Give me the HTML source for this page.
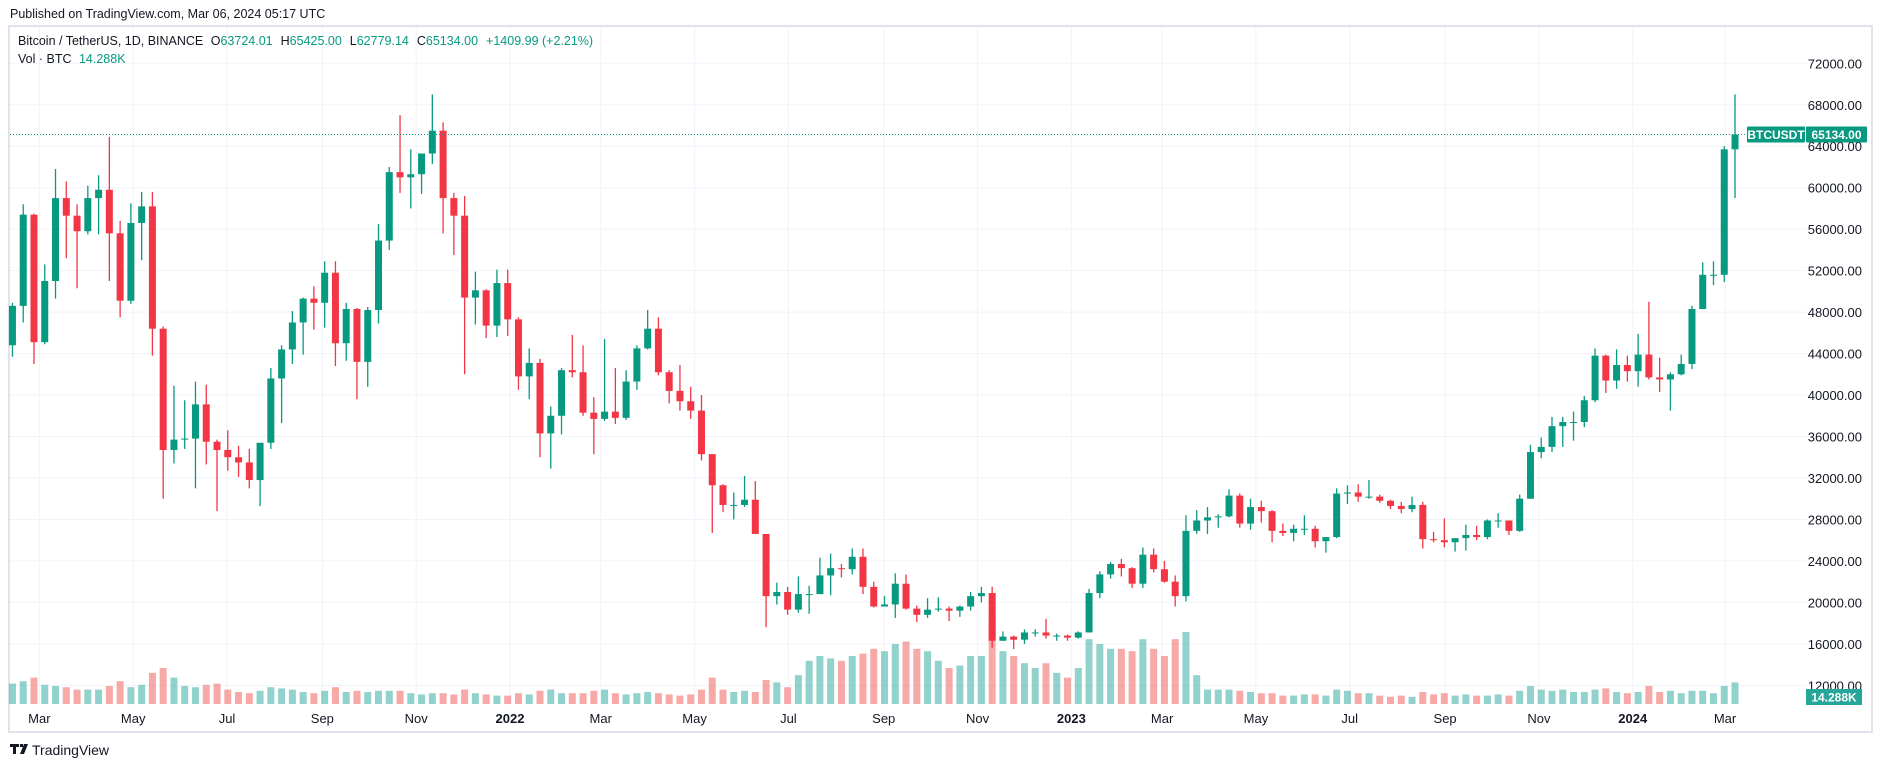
<!DOCTYPE html>
<html><head><meta charset="utf-8"><style>
body{margin:0;background:#fff;font-family:"Liberation Sans",sans-serif;}
#wrap{position:relative;width:1882px;height:768px;overflow:hidden;}
</style></head><body>
<div id="wrap">
<svg id="svg" width="1882" height="768" xmlns="http://www.w3.org/2000/svg" style="font-family:'Liberation Sans',sans-serif">
<text x="10" y="18" font-size="12.5" fill="#131722">Published on TradingView.com, Mar 06, 2024 05:17 UTC</text>
<rect x="9" y="26" width="1863" height="706" fill="none" stroke="#e0e3eb" stroke-width="2"/>
<g id="grid"></g>
<g id="vol"></g>
<g id="candles"></g>
<g id="axes"></g>
<g font-size="12.5">
<text x="18" y="45" fill="#131722">Bitcoin / TetherUS, 1D, BINANCE <tspan dx="4">O</tspan><tspan fill="#089981">63724.01</tspan><tspan dx="8">H</tspan><tspan fill="#089981">65425.00</tspan><tspan dx="8">L</tspan><tspan fill="#089981">62779.14</tspan><tspan dx="8">C</tspan><tspan fill="#089981">65134.00</tspan><tspan dx="8" fill="#089981">+1409.99 (+2.21%)</tspan></text>
<text x="18" y="63" fill="#131722">Vol · BTC <tspan dx="4" fill="#089981">14.288K</tspan></text>
</g>
<g>
<path d="M10 744h9v3h-3v7h-3v-7h-3z M20 744h3v3h-3z M24 744h4l-4 10h-4z" fill="#131722"/>
<text x="32" y="755" font-size="14" fill="#131722">TradingView</text>
</g>
</svg>
</div>
<script>
const opens=[44.8,48.6,57.4,45.1,51.0,59.0,57.3,55.8,59.0,59.8,55.6,49.1,56.6,58.2,46.4,34.7,35.7,35.8,39.1,35.5,34.7,34.0,33.5,31.8,35.4,41.6,44.4,47.0,49.3,48.9,51.8,45.0,48.3,43.2,48.2,54.9,61.5,61.0,61.3,63.3,65.5,59.0,57.3,49.4,50.1,46.7,50.8,47.3,41.8,43.1,36.3,38.0,42.4,42.2,38.3,37.7,38.4,37.8,41.3,44.5,46.4,42.2,40.4,39.4,38.5,34.3,31.3,29.4,29.4,29.9,26.6,20.6,21.0,19.3,20.8,20.8,22.6,23.3,23.2,24.4,21.5,19.6,19.8,21.8,19.4,18.8,19.3,19.4,19.2,19.6,20.6,20.9,16.3,16.7,16.4,17.1,17.1,16.8,16.8,16.6,17.1,20.9,22.7,23.7,23.3,21.8,24.6,23.2,22.0,20.6,26.9,27.9,28.2,28.3,30.3,27.6,29.2,28.8,26.9,26.7,27.1,27.1,25.9,26.3,30.5,30.6,30.2,30.2,29.8,29.3,29.0,29.4,26.1,26.0,25.8,26.2,26.5,26.3,27.9,27.9,26.9,30.0,34.5,35.0,37.0,37.4,37.4,39.5,43.8,41.4,42.9,42.3,43.9,41.7,41.5,42.0,43.0,48.3,51.6,51.6,63.7];
const highs=[48.9,58.4,57.5,52.6,61.8,60.6,58.4,60.2,61.2,64.9,56.8,58.5,59.6,59.6,46.6,40.9,39.5,41.3,41.0,35.7,36.6,35.1,34.8,34.5,42.6,44.8,48.1,49.4,50.5,52.9,52.9,48.9,48.4,48.5,56.5,62.0,67.0,63.7,63.3,69.0,66.3,59.5,59.2,51.9,50.2,52.1,52.1,47.5,44.5,43.5,38.9,42.6,45.8,44.8,39.8,45.4,42.6,42.4,44.8,48.2,47.5,42.4,42.9,40.8,40.0,34.3,31.4,30.6,32.2,31.7,26.6,21.9,21.5,22.5,21.6,24.3,24.7,23.7,25.2,25.2,22.0,20.6,22.8,22.7,19.7,20.4,20.5,19.6,19.7,21.0,21.5,21.5,17.2,16.8,17.4,17.4,18.4,17.0,16.9,17.2,21.3,23.0,23.9,24.2,23.4,25.3,25.2,24.0,22.6,28.4,28.9,29.2,28.5,30.9,30.5,30.0,29.8,28.9,27.6,27.5,28.4,27.4,26.2,31.0,31.3,31.4,31.8,30.4,29.9,29.7,30.2,29.7,26.8,28.1,26.1,27.5,27.4,28.0,28.6,27.9,30.4,35.2,35.9,37.9,37.9,38.4,39.9,44.5,43.9,44.4,43.8,45.9,49.0,43.6,42.2,43.9,48.6,52.8,52.9,64.0,69.0];
const lows=[43.7,47.0,43.0,44.9,49.3,53.2,50.3,55.5,55.5,51.0,47.5,48.8,53.0,43.8,30.0,33.4,34.8,31.0,33.3,28.8,32.7,32.1,31.0,29.3,34.8,37.3,43.0,43.9,46.3,46.5,42.8,43.3,39.6,40.8,46.9,54.0,59.5,58.0,59.4,62.3,55.6,53.5,42.0,46.8,45.5,45.6,45.7,40.5,39.6,34.0,32.9,36.2,41.7,38.0,34.3,37.5,37.2,37.6,40.5,44.4,41.9,39.2,38.5,37.7,33.7,26.7,28.7,28.0,29.2,26.6,17.6,19.8,18.8,19.0,18.9,20.8,20.7,22.4,22.7,20.8,19.5,19.6,18.5,19.3,18.1,18.5,19.1,18.2,18.6,19.2,20.0,15.6,16.3,15.5,16.0,16.7,16.5,16.3,16.3,16.5,17.1,20.4,22.3,22.5,21.4,21.4,22.9,21.9,19.6,20.1,26.6,26.6,27.2,28.2,27.2,27.0,27.7,25.8,26.4,25.9,26.5,25.3,24.8,26.2,29.5,29.7,30.0,29.6,29.0,28.6,28.7,25.2,25.8,25.3,24.9,25.0,26.0,26.1,27.2,26.5,26.8,30.0,33.9,34.5,35.0,35.6,36.9,39.3,40.2,40.6,41.3,40.8,41.5,40.3,38.5,41.9,42.5,48.3,50.6,50.9,59.0];
const closes=[48.6,57.4,45.1,51.0,59.0,57.3,55.8,59.0,59.8,55.6,49.1,56.6,58.2,46.4,34.7,35.7,35.8,39.1,35.5,34.7,34.0,33.5,31.8,35.4,41.6,44.4,47.0,49.3,48.9,51.8,45.0,48.3,43.2,48.2,54.9,61.5,61.0,61.3,63.3,65.5,59.0,57.3,49.4,50.1,46.7,50.8,47.3,41.8,43.1,36.3,38.0,42.4,42.2,38.3,37.7,38.4,37.8,41.3,44.5,46.4,42.2,40.4,39.4,38.5,34.3,31.3,29.4,29.4,29.9,26.6,20.6,21.0,19.3,20.8,20.8,22.6,23.3,23.2,24.4,21.5,19.6,19.8,21.8,19.4,18.8,19.3,19.4,19.2,19.6,20.6,20.9,16.3,16.7,16.4,17.1,17.1,16.8,16.8,16.6,17.1,20.9,22.7,23.7,23.3,21.8,24.6,23.2,22.0,20.6,26.9,27.9,28.2,28.3,30.3,27.6,29.2,28.8,26.9,26.7,27.1,27.1,25.9,26.3,30.5,30.6,30.2,30.2,29.8,29.3,29.0,29.4,26.1,26.0,25.8,26.2,26.5,26.3,27.9,27.9,26.9,30.0,34.5,35.0,37.0,37.4,37.4,39.5,43.8,41.4,42.9,42.3,43.9,41.7,41.5,42.0,43.0,48.3,51.6,51.6,63.7,65.134];
const volumes=[85,95,110,80,75,70,60,60,60,75,95,70,80,130,150,110,75,70,80,85,60,50,45,55,70,65,60,50,45,55,70,50,55,50,55,55,55,45,40,45,45,40,60,45,40,35,35,45,40,55,60,45,45,45,55,60,45,40,45,50,45,40,35,40,60,110,60,50,55,50,100,90,70,120,180,200,190,180,200,210,230,220,250,260,230,220,180,150,160,200,200,350,220,200,170,150,170,130,110,150,270,250,230,230,220,270,230,200,270,300,120,60,60,60,55,50,45,45,35,35,40,40,35,60,55,45,45,35,30,35,30,50,40,45,35,40,35,35,40,35,55,75,60,55,60,50,50,60,65,50,45,50,75,50,55,45,55,55,45,75,90];
const priceTicks=[72000,68000,64000,60000,56000,52000,48000,44000,40000,36000,32000,28000,24000,20000,16000,12000];
const timeLabels=["Mar","May","Jul","Sep","Nov","2022","Mar","May","Jul","Sep","Nov","2023","Mar","May","Jul","Sep","Nov","2024","Mar"];
const timeLabelDays=[-306,-245,-184,-122,-61,0,59,120,181,243,304,365,424,485,546,608,669,730,790];
const firstWeekDay=-327;
const lastPrice=65134;

const NS="http://www.w3.org/2000/svg";
function el(t,a,p){const e=document.createElementNS(NS,t);for(const k in a)e.setAttribute(k,a[k]);p.appendChild(e);return e;}
const yP=p=>63.3+(72000-p)*0.010367;
const xD=d=>510+1.538*d;
const xW=i=>xD(firstWeekDay+7*i+3.5);
const volBase=704, volScale=0.24;
const grid=document.getElementById('grid'),axes=document.getElementById('axes'),cg=document.getElementById('candles'),vg=document.getElementById('vol');
priceTicks.forEach(p=>{
  const l=el('line',{x1:10,x2:1806,y1:yP(p),y2:yP(p),stroke:'#f0f3fa','stroke-width':1},grid);
  
  
  const t=el('text',{x:1862,y:yP(p)+5,'text-anchor':'end','font-size':13,fill:'#131722'},axes);
  t.textContent=p.toFixed(2);
  
  
});
timeLabels.forEach((s,i)=>{
  const x=xD(timeLabelDays[i]);
  const l=el('line',{x1:x,x2:x,y1:27,y2:706,stroke:'#f0f3fa','stroke-width':1},grid);
  
  
  const t=el('text',{x:x,y:723,'text-anchor':'middle','font-size':13,fill:'#131722','font-weight':/^\d/.test(s)?'bold':'normal'},axes);
  t.textContent=s;
  
  
});
closes.forEach((c,i)=>{
  const o=opens[i],up=c>=o,x=xW(i);
  const col=up?'#089981':'#f23645';
  const vh=volumes[i]*volScale;
  const vb=el('rect',{x:x-3.5,y:volBase-vh,width:7,height:vh,fill:up?'#26a69a':'#ef5350','fill-opacity':0.5},vg);
  
  
  const w=el('line',{x1:x,x2:x,y1:yP(highs[i]*1000),y2:yP(lows[i]*1000),stroke:col,'stroke-width':1.3},cg);
  
  
  const top=yP(Math.max(o,c)*1000),bot=yP(Math.min(o,c)*1000);
  const b=el('rect',{x:x-3.5,y:top,width:7,height:Math.max(1,bot-top),fill:col},cg);
  
  
});
const ly=yP(lastPrice);
const pl=el('line',{x1:10,x2:1746,y1:ly,y2:ly,stroke:'#089981','stroke-width':1,'stroke-dasharray':'1 2'},axes);


const r1=el('rect',{x:1747,y:ly-8,width:58,height:16,fill:'#089981',rx:1},axes);


const t1=el('text',{x:1776,y:ly+4.5,'text-anchor':'middle','font-size':12,fill:'#fff','font-weight':'bold'},axes);
t1.textContent='BTCUSDT';


const r2=el('rect',{x:1806,y:ly-8,width:61,height:16,fill:'#089981',rx:1},axes);


const t2=el('text',{x:1836.5,y:ly+4.5,'text-anchor':'middle','font-size':12,fill:'#fff','font-weight':'bold'},axes);
t2.textContent=lastPrice.toFixed(2);


const r3=el('rect',{x:1806,y:689,width:56,height:16,fill:'#26a69a'},axes);


const t3=el('text',{x:1834,y:701.5,'text-anchor':'middle','font-size':12,fill:'#fff','font-weight':'bold'},axes);
t3.textContent='14.288K';


</script>
</body></html>
